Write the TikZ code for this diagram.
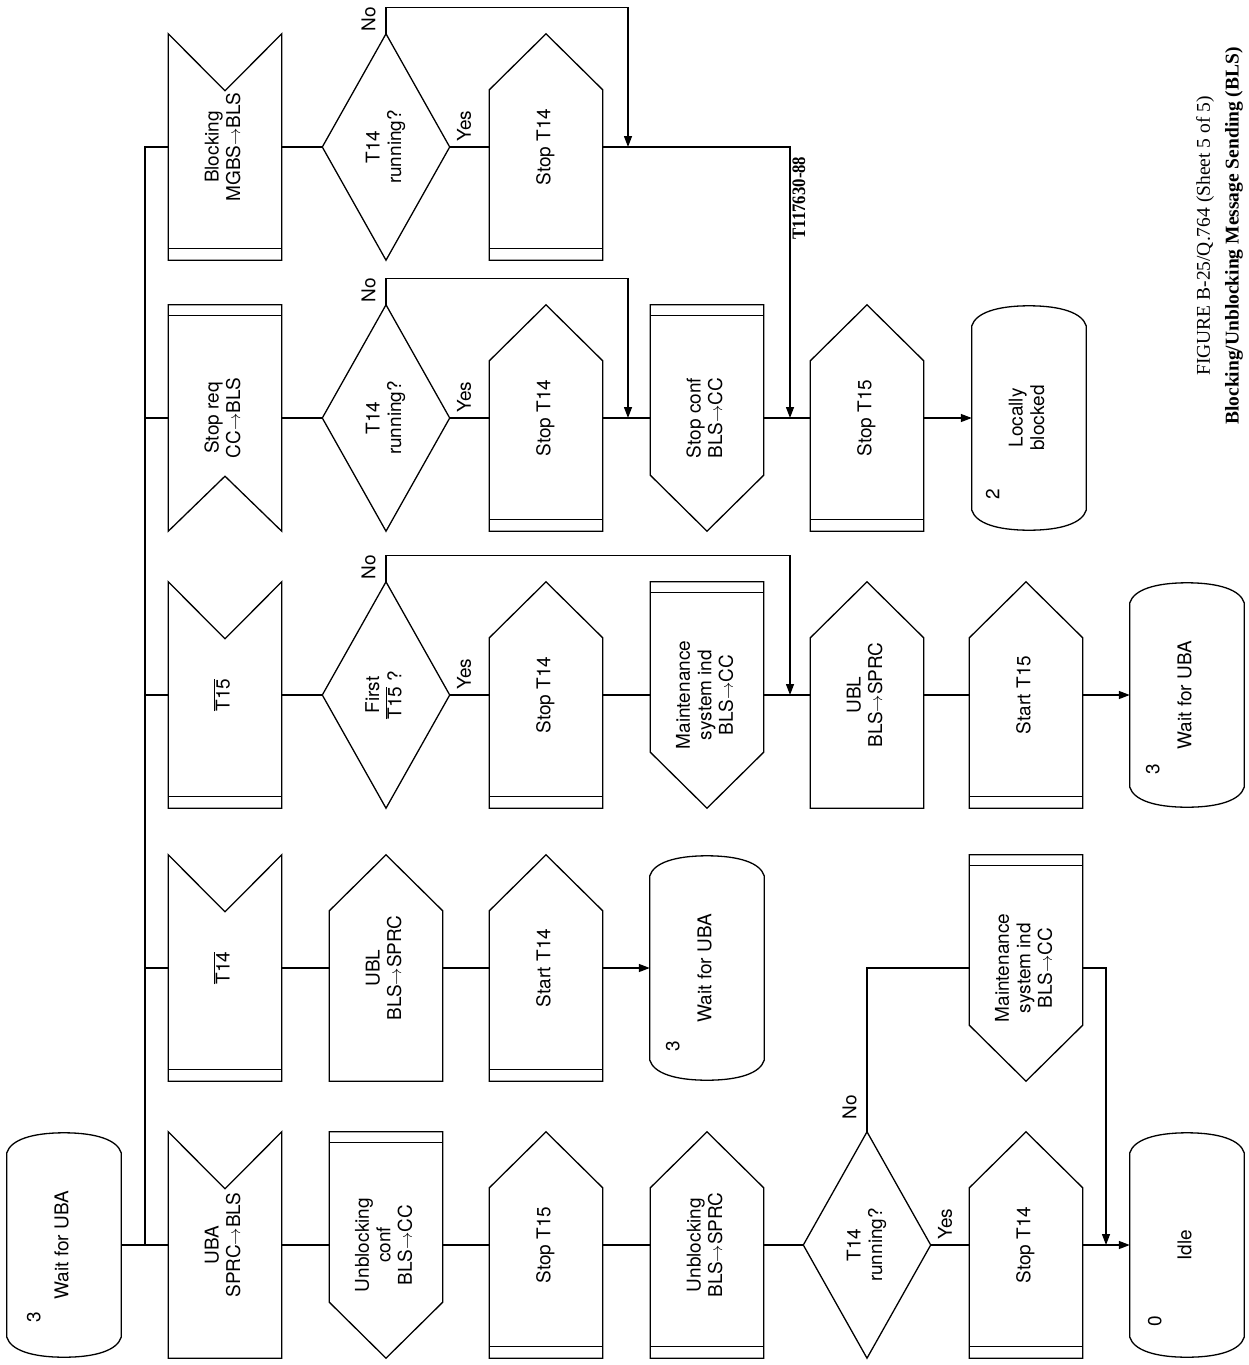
\documentclass[tikz,border=0pt]{standalone}
\usepackage{fontspec}
\setmainfont{TeX Gyre Heros}
\newfontfamily\capfont{Liberation Serif}
\usepackage{graphicx}
\usetikzlibrary{arrows.meta,calc}
\newcommand\lab{\fontsize{19}{21.5}\selectfont}
\newcommand\rt[1]{\rotatebox{90}{\begin{tabular}{@{}c@{}}#1\end{tabular}}}
\newcommand\ovl[1]{$\overline{\mbox{#1}}$}
\newcommand\toar{$\rightarrow$}
\newcommand\shOutUp[1]{\draw[shp] (#1.south west) -- ([yshift=-56pt]#1.north west) -- (#1.north) -- ([yshift=-56pt]#1.north east) -- (#1.south east) -- cycle;}
\newcommand\shOutDn[1]{\draw[shp] (#1.north west) -- (#1.north east) -- ([yshift=56pt]#1.south east) -- (#1.south) -- ([yshift=56pt]#1.south west) -- cycle;}
\newcommand\shInTop[1]{\draw[shp] (#1.south west) -- (#1.north west) -- ([yshift=-57pt]#1.north) -- (#1.north east) -- (#1.south east) -- cycle;}
\newcommand\shInBot[1]{\draw[shp] (#1.north west) -- (#1.north east) -- (#1.south east) -- ([yshift=55pt]#1.south) -- (#1.south west) -- cycle;}
\newcommand\shDia[1]{\draw[shp] (#1.north) -- (#1.east) -- (#1.south) -- (#1.west) -- cycle;}
\newcommand\shState[1]{\draw[shp] ([yshift=-20pt]#1.north west) .. controls ([xshift=4pt,yshift=-7pt]#1.north west) and ([xshift=-32pt]#1.north) .. (#1.north) .. controls ([xshift=32pt]#1.north) and ([xshift=-4pt,yshift=-7pt]#1.north east) .. ([yshift=-20pt]#1.north east) -- ([yshift=20pt]#1.south east) .. controls ([xshift=-4pt,yshift=7pt]#1.south east) and ([xshift=32pt]#1.south) .. (#1.south) .. controls ([xshift=-32pt]#1.south) and ([xshift=4pt,yshift=7pt]#1.south west) .. ([yshift=20pt]#1.south west) -- cycle;}
\newcommand\dblBot[1]{\draw[shp] ([yshift=12pt]#1.south west) -- ([yshift=12pt]#1.south east);}
\newcommand\dblTop[1]{\draw[shp] ([yshift=-11pt]#1.north west) -- ([yshift=-11pt]#1.north east);}
\begin{document}
\begin{tikzpicture}[x=1pt,y=1pt,
  blk/.style={rectangle, inner sep=0pt, minimum width=113pt, minimum height=226pt, font=\lab},
  dia/.style={blk, minimum width=127pt},
  st/.style={blk, minimum width=114pt, minimum height=224pt},
  shp/.style={line width=1.3pt, line join=miter},
  ln/.style={line width=1.3pt},
  arr/.style={ln, -{Triangle[length=11pt,width=8pt]}},
  lbl/.style={inner sep=0pt, font=\lab},
]
\useasboundingbox (0,0) rectangle (1249,-1365);

% ---------- Row A
\node[st] (sA0) at (64,-1245) {\rt{Wait for UBA}};
\node[blk] (iA1) at (225,-1245) {\rt{UBA\\SPRC\toar BLS}};
\node[blk] (oA2) at (386,-1245) {\rt{Unblocking\\conf\\BLS\toar CC}};
\node[blk] (tA3) at (546,-1245) {\rt{Stop T15}};
\node[blk] (tA4) at (707,-1245) {\rt{Unblocking\\BLS\toar SPRC}};
\node[dia] (dA5) at (867,-1245) {\rt{T14\\running?}};
\node[blk] (tA6) at (1026,-1245) {\rt{Stop T14}};
\node[st] (sA7) at (1187,-1245) {\rt{Idle}};
\node[blk] (mB6) at (1026,-968) {\rt{Maintenance\\system ind\\BLS\toar CC}};

% ---------- Row B
\node[blk] (iB1) at (225,-968) {\rt{\ovl{T14}}};
\node[blk] (tB2) at (386,-968) {\rt{UBL\\BLS\toar SPRC}};
\node[blk] (tB3) at (546,-968) {\rt{Start T14}};
\node[st] (sB4) at (707,-968) {\rt{Wait for UBA}};

% ---------- Row C
\node[blk] (iC1) at (225,-695) {\rt{\ovl{T15}}};
\node[dia] (dC2) at (386,-695) {\rt{First\\\ovl{T15} ?}};
\node[blk] (tC3) at (546,-695) {\rt{Stop T14}};
\node[blk] (oC4) at (707,-695) {\rt{Maintenance\\system ind\\BLS\toar CC}};
\node[blk] (tC5) at (867,-695) {\rt{UBL\\BLS\toar SPRC}};
\node[blk] (tC6) at (1026,-695) {\rt{Start T15}};
\node[st] (sC7) at (1187,-695) {\rt{Wait for UBA}};

% ---------- Row D
\node[blk] (iD1) at (225,-418) {\rt{Stop req\\CC\toar BLS}};
\node[dia] (dD2) at (386,-418) {\rt{T14\\running?}};
\node[blk] (tD3) at (546,-418) {\rt{Stop T14}};
\node[blk] (oD4) at (707,-418) {\rt{Stop conf\\BLS\toar CC}};
\node[blk] (tD5) at (867,-418) {\rt{Stop T15}};
\node[st] (sD6) at (1029,-418) {\rt{Locally\\blocked}};

% ---------- Row E
\node[blk] (iE1) at (225,-147) {\rt{Blocking\\MGBS\toar BLS}};
\node[dia] (dE2) at (386,-147) {\rt{T14\\running?}};
\node[blk] (tE3) at (546,-147) {\rt{Stop T14}};

% ---------- state numbers
\node[lbl] (nA0) at ([xshift=-28pt,yshift=-72pt]sA0.center) {\rt{3}};
\node[lbl] (nA7) at ([xshift=-30pt,yshift=-76pt]sA7.center) {\rt{0}};
\node[lbl] (nB4) at ([xshift=-32pt,yshift=-78pt]sB4.center) {\rt{3}};
\node[lbl] (nC7) at ([xshift=-32pt,yshift=-74pt]sC7.center) {\rt{3}};
\node[lbl] (nD6) at ([xshift=-34pt,yshift=-76pt]sD6.center) {\rt{2}};

% ---------- outlines
\shState{sA0} \shInTop{iA1} \shOutDn{oA2} \dblTop{oA2}
\shOutUp{tA3} \dblBot{tA3} \shOutUp{tA4} \dblBot{tA4}
\shDia{dA5} \shOutUp{tA6} \dblBot{tA6} \shState{sA7}
\shOutDn{mB6} \dblTop{mB6}
\shInTop{iB1} \dblBot{iB1} \shOutUp{tB2} \shOutUp{tB3} \dblBot{tB3} \shState{sB4}
\shInTop{iC1} \dblBot{iC1} \shDia{dC2} \shOutUp{tC3} \dblBot{tC3}
\shOutDn{oC4} \dblTop{oC4} \shOutUp{tC5} \shOutUp{tC6} \dblBot{tC6} \shState{sC7}
\shInBot{iD1} \dblTop{iD1} \shDia{dD2} \shOutUp{tD3} \dblBot{tD3}
\shOutDn{oD4} \dblTop{oD4} \shOutUp{tD5} \dblBot{tD5} \shState{sD6}
\shInTop{iE1} \dblBot{iE1} \shDia{dE2} \shOutUp{tE3} \dblBot{tE3}

% ---------- junction coordinates
\coordinate (bA) at (145,-1245);
\coordinate (bE) at (145,-147);
\coordinate (jA) at (1106,-1245);
\coordinate (jC) at (790,-695);
\coordinate (jD1) at (628,-418);
\coordinate (jD2) at (790,-418);
\coordinate (jE) at (628,-147);

% ---------- connectors: bus
\draw[ln] (sA0.east) -- (iA1.west);
\draw[ln] (bA) -- (bE) -- (iE1.west);
\draw[ln] (bA |- iB1.west) -- (iB1.west);
\draw[ln] (bA |- iC1.west) -- (iC1.west);
\draw[ln] (bA |- iD1.west) -- (iD1.west);

% Row A
\draw[ln] (iA1.east) -- (oA2.west);
\draw[ln] (oA2.east) -- (tA3.west);
\draw[ln] (tA3.east) -- (tA4.west);
\draw[ln] (tA4.east) -- (dA5.west);
\draw[ln] (dA5.east) -- (tA6.west);
\draw[arr] (tA6.east) -- (sA7.west);
\draw[ln] (dA5.north) |- (mB6.west);
\draw[arr] (mB6.east) -| (jA);

% Row B
\draw[ln] (iB1.east) -- (tB2.west);
\draw[ln] (tB2.east) -- (tB3.west);
\draw[arr] (tB3.east) -- (sB4.west);

% Row C
\draw[ln] (iC1.east) -- (dC2.west);
\draw[ln] (dC2.east) -- (tC3.west);
\draw[ln] (tC3.east) -- (oC4.west);
\draw[ln] (oC4.east) -- (tC5.west);
\draw[ln] (tC5.east) -- (tC6.west);
\draw[arr] (tC6.east) -- (sC7.west);
\draw[arr] (dC2.north) -- ++(0,26) -| (jC);

% Row D
\draw[ln] (iD1.east) -- (dD2.west);
\draw[ln] (dD2.east) -- (tD3.west);
\draw[ln] (tD3.east) -- (oD4.west);
\draw[ln] (oD4.east) -- (tD5.west);
\draw[arr] (tD5.east) -- (sD6.west);
\draw[arr] (dD2.north) -- ++(0,26) -| (jD1);

% Row E
\draw[ln] (iE1.east) -- (dE2.west);
\draw[ln] (dE2.east) -- (tE3.west);
\draw[arr] (dE2.north) -- ++(0,26) -| (jE);
\draw[arr] (tE3.east) -| (jD2);

% ---------- Yes / No labels
\node[lbl, anchor=south west] (yA) at ([xshift=6pt,yshift=5pt]dA5.east) {\rt{Yes}};
\node[lbl, anchor=south west] (yC) at ([xshift=6pt,yshift=5pt]dC2.east) {\rt{Yes}};
\node[lbl, anchor=south west] (yD) at ([xshift=6pt,yshift=5pt]dD2.east) {\rt{Yes}};
\node[lbl, anchor=south west] (yE) at ([xshift=6pt,yshift=5pt]dE2.east) {\rt{Yes}};
\node[lbl, anchor=south east] (nA) at ([xshift=-4pt,yshift=12pt]dA5.north) {\rt{No}};
\node[lbl, anchor=south east] (nC) at ([xshift=-4pt,yshift=2pt]dC2.north) {\rt{No}};
\node[lbl, anchor=south east] (nD) at ([xshift=-4pt,yshift=2pt]dD2.north) {\rt{No}};
\node[lbl, anchor=south east] (nE) at ([xshift=-4pt,yshift=2pt]dE2.north) {\rt{No}};

% ---------- reference number and caption
\node[inner sep=0pt, font=\capfont\bfseries\fontsize{19}{21}\selectfont] (ref) at (799,-198) {\rotatebox{90}{\scalebox{0.88}[1]{T117630-88}}};
\node[inner sep=0pt, font=\capfont\fontsize{19.5}{22}\selectfont] (cap1) at (1205,-236) {\rotatebox{90}{FIGURE B-25/Q.764 (Sheet 5 of 5)}};
\node[inner sep=0pt, font=\capfont\bfseries\fontsize{19.5}{22}\selectfont] (cap2) at (1234,-236) {\rotatebox{90}{Blocking/Unblocking Message Sending (BLS)}};
\end{tikzpicture}
\end{document}
